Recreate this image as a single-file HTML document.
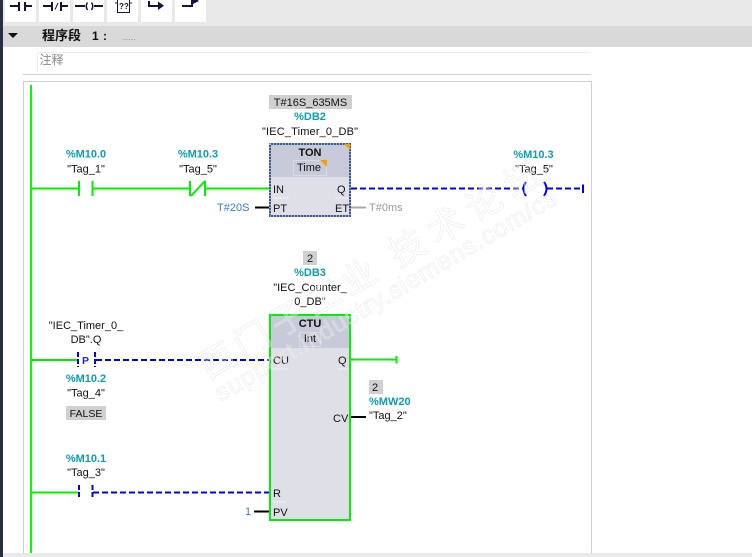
<!DOCTYPE html>
<html><head><meta charset="utf-8"><style>
html,body{margin:0;padding:0;background:#fff;width:752px;height:557px;overflow:hidden}
svg{display:block}
text{font-family:"Liberation Sans","Noto Sans CJK SC",sans-serif;font-size:11px;fill:#111}
.t{fill:#0a9fb0;font-weight:bold}
.b{fill:#3b78d8}
.m{text-anchor:middle}
.w{fill:rgba(255,255,255,.25);stroke:rgba(225,225,225,.55);stroke-width:.8px}
</style></head><body>
<svg width="752" height="557" viewBox="0 0 752 557" xmlns="http://www.w3.org/2000/svg">
<rect x="0" y="0" width="752" height="26" fill="#e9e9e9"/>
<rect x="0" y="0" width="3" height="557" fill="#27303f"/>
<g fill="#fff">
<rect x="5" y="0" width="31" height="22"/><rect x="39" y="0" width="31" height="22"/><rect x="73" y="0" width="31" height="22"/><rect x="107" y="0" width="31" height="22"/><rect x="141" y="0" width="31" height="22"/><rect x="175" y="0" width="31" height="22"/>
</g>
<g stroke="#14143c" stroke-width="2" fill="none">
<path d="M10 6H19M19 2V11M25 2V11M25 6H32"/>
<path d="M43 6H52M52 2V11M61 2V11M61 6H68"/>
<path d="M75 6H85M94 6H103"/>
<path d="M149 1V6H158M182 6H192V1H195"/>
</g>
<path d="M55 9.500L58 3" stroke="#14143c" stroke-width="1" fill="none"/>
<path d="M87.500 2.500Q85 6 87.500 10M91.500 2.500Q94 6 91.500 10" stroke="#14143c" stroke-width="1.500" fill="none"/>
<path d="M158 1.500L164 5.800L158 10Z M193 -3L199 1L193 4Z" fill="#14143c"/>
<rect x="117.500" y="-2" width="12" height="14.500" fill="#fff" stroke="#14143c" stroke-width="1"/>
<path d="M115 3H117M130 3H132" stroke="#14143c"/>
<text x="119" y="9" style="font-size:8px;font-weight:bold;fill:#14143c">??</text>

<rect x="3" y="26" width="749" height="21" fill="#d9d9d9"/>
<path d="M8 33H18L13 38Z" fill="#111"/>
<text x="42" y="40" style="font-size:13px;font-weight:bold">程序段</text>
<text x="92" y="40" style="font-size:12px;font-weight:bold">1</text>
<text x="103" y="40" style="font-size:12px;font-weight:bold">:</text>
<text x="123" y="40" style="font-size:9px;fill:#8a8a8a">.....</text>

<path d="M37.500 72V52.500H591" stroke="#eeeeee" fill="none"/>
<text x="39.500" y="64" style="font-size:12px;fill:#8a8a8a">注释</text>
<rect x="23" y="74" width="568" height="1" fill="#cfcde3"/>
<path d="M23.500 557V81.500H591.500V557" fill="none" stroke="#cfcde3"/>
<rect x="3" y="553" width="749" height="4" fill="#e9e9e9"/>

<!-- rail -->
<rect x="30" y="85" width="2" height="468" fill="#00ff00"/>

<!-- Rung 1 -->
<g stroke="#00f000" stroke-width="2" fill="none">
<path d="M31 188.500H79M92.500 188.500H190M205 188.500H269"/>
<path d="M79 181V196M92.500 181V196M190 181V196M205 181V196"/>
<path d="M191 196L205 181"/>
</g>
<text class="t m" x="86" y="157.500">%M10.0</text>
<text class="m" x="86" y="172.500">"Tag_1"</text>
<text class="t m" x="198" y="157.500">%M10.3</text>
<text class="m" x="198" y="172.500">"Tag_5"</text>

<rect x="270" y="144" width="80" height="72" fill="#dfdfe8" stroke="#3c5a96" stroke-width="2"/>
<rect x="271" y="145" width="78" height="32" fill="#c7cad8"/>
<rect x="270" y="144" width="80" height="72" fill="none" stroke="#fff" stroke-width="1" stroke-dasharray="1 2"/>
<path d="M344 144H350V150Z" fill="#f5a000"/>
<text class="m" x="310" y="156" style="font-weight:bold">TON</text>
<rect x="293.500" y="160.500" width="33" height="15" fill="none" stroke="#d8dae4"/>
<text class="m" x="309" y="171">Time</text>
<path d="M320 160H327V167Z" fill="#f5a000"/>
<text x="273" y="193">IN</text>
<text x="273" y="212">PT</text>
<text x="337" y="193">Q</text>
<text x="335" y="212">ET</text>
<path d="M273 198H289M335 198H348" stroke="#f2f2f6"/>

<rect x="269" y="95" width="83" height="14" fill="#d0d0d0"/>
<text class="m" x="310.500" y="106">T#16S_635MS</text>
<text class="t m" x="310" y="120">%DB2</text>
<text class="m" x="310" y="135" textLength="96">"IEC_Timer_0_DB"</text>

<path d="M255 207.500H269" stroke="#000" stroke-width="2"/>
<text class="b" x="217" y="211">T#20S</text>
<path d="M351 207.500H366" stroke="#a8a8a8" stroke-width="2"/>
<text x="369" y="211" style="fill:#9a9a9a">T#0ms</text>

<g stroke="#0000f0" stroke-width="2" fill="none">
<path d="M351 188.500H523" stroke-dasharray="6 3"/>
<path d="M547 188.500H582" stroke-dasharray="6 3"/>
<path d="M526 182Q521 188.500 526 196M544 182Q549 188.500 544 196"/>
<path d="M583 184.500V193"/>
</g>
<text class="t m" x="533.500" y="158">%M10.3</text>
<text class="m" x="534" y="172.500">"Tag_5"</text>

<!-- CTU -->
<rect x="270" y="315" width="80" height="205" fill="#dfdfe8"/>
<rect x="271" y="316" width="78" height="32" fill="#c7cad8"/>
<rect x="270" y="315" width="80" height="205" fill="none" stroke="#00f000" stroke-width="2"/>
<text class="m" x="310" y="327" style="font-weight:bold">CTU</text>
<rect x="299.500" y="332.500" width="21" height="14" fill="none" stroke="#d8dae4"/>
<text class="m" x="310" y="342">Int</text>
<text x="273" y="364">CU</text>
<text x="338" y="364">Q</text>
<text x="333" y="422">CV</text>
<text x="273" y="497">R</text>
<text x="273" y="516">PV</text>
<path d="M273 369H288M273 502H286M338 369H348" stroke="#f2f2f6"/>

<rect x="303" y="251" width="14" height="14" fill="#d0d0d0"/>
<text class="m" x="310" y="262">2</text>
<text class="t m" x="310" y="276">%DB3</text>
<text class="m" x="310" y="291">"IEC_Counter_</text>
<text class="m" x="310" y="305">0_DB"</text>

<path d="M351 359.500H397" stroke="#00f000" stroke-width="2"/>
<path d="M396.500 356V363.500" stroke="#00f000" stroke-width="2"/>
<path d="M351 417H366" stroke="#000" stroke-width="2"/>
<rect x="369" y="380" width="14" height="14" fill="#d0d0d0"/>
<text x="372" y="391">2</text>
<text class="t" x="369" y="405">%MW20</text>
<text x="369" y="419">"Tag_2"</text>

<!-- P contact -->
<path d="M31 360H78" stroke="#00f000" stroke-width="2"/>
<g stroke="#0000f0" stroke-width="2" fill="none">
<path d="M78 352V367M95 352V367" stroke-dasharray="5 2"/>
<path d="M96 360H269" stroke-dasharray="6 3"/>
</g>
<text class="m" x="85.500" y="364" style="font-size:10.500px;font-weight:bold;fill:#2222dd">P</text>
<text class="m" x="86" y="329">"IEC_Timer_0_</text>
<text class="m" x="86" y="343">DB".Q</text>
<text class="t m" x="86" y="382">%M10.2</text>
<text class="m" x="86" y="396.500">"Tag_4"</text>
<rect x="66" y="406" width="40" height="14" fill="#d0d0d0"/>
<text class="m" x="86" y="417" style="font-size:10.500px">FALSE</text>

<!-- R contact -->
<path d="M31 492.500H79" stroke="#00f000" stroke-width="2"/>
<g stroke="#0000f0" stroke-width="2" fill="none">
<path d="M79 485V499M92.500 485V499" stroke-dasharray="5 2"/>
<path d="M93 492.500H269" stroke-dasharray="6 3"/>
</g>
<text class="t m" x="86" y="462">%M10.1</text>
<text class="m" x="86" y="476">"Tag_3"</text>
<path d="M254 511.500H269" stroke="#000" stroke-width="2"/>
<text class="b" x="245" y="515">1</text>

<!-- watermark over everything -->
<text class="w" transform="translate(208 380) rotate(-30.500)" style="font-size:35px" textLength="200">西门子工业</text>
<text class="w" transform="translate(398 268) rotate(-30.500)" style="font-size:36px" textLength="170">技术论坛</text>
<text class="w" transform="translate(221 402) rotate(-30.500)" style="font-size:25px" textLength="392">support.industry.siemens.com/cs</text>
</svg>
</body></html>
